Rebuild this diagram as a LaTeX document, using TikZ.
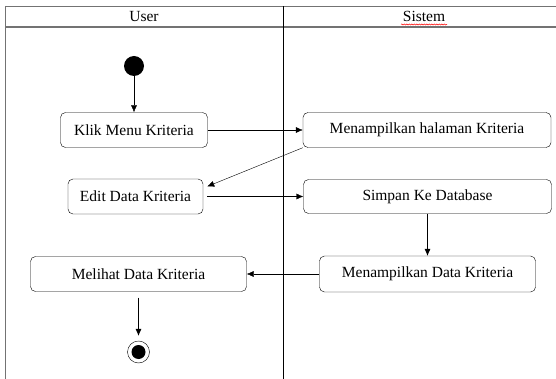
\documentclass[tikz,border=0pt]{standalone}
\usepackage{fontspec}
\setmainfont{Liberation Serif}
\usepackage{tikz}
\usetikzlibrary{arrows.meta,decorations.pathmorphing}

\begin{document}
\begin{tikzpicture}[
    x=1pt, y=-1pt,
    lane line/.style={line width=1.3pt, color=black!55},
    lane divider/.style={line width=0.9pt, color=black},
    activity/.style={draw, thin, rounded corners=5pt, inner sep=0pt,
    minimum height=35pt, font=\fontsize{15.5}{18}\selectfont},
    flow/.style={thin, -{Latex[length=7pt,width=6pt]}},
    every node/.style={color=black}
    ]
\useasboundingbox (0,0) rectangle (556,379);

% swimlanes
\draw[lane line] (5.5,6.5) -- (556,6.5);
\draw[lane line] (5.5,27) -- (556,27);
\draw[lane line] (5.5,6) -- (5.5,379);
\draw[lane divider] (283,6.5) -- (283,379);

\node[font=\fontsize{15.5}{18}\selectfont] (user) at (144,16.5) {User};
\node[font=\fontsize{15.5}{18}\selectfont] (sistem) at (424,16.5) {Sistem};
\draw[red, line width=0.5pt, decorate,
    decoration={snake, amplitude=0.6pt, segment length=2.5pt}]
    (401,24.5) -- (447,24.5);

% start and end
\node[circle, fill=black, minimum size=20pt, inner sep=0pt] (start) at (134,66) {};
\node[circle, draw, thin, minimum size=22pt, inner sep=0pt] (stop) at (138.5,352) {};
\node[circle, fill=black, minimum size=14pt, inner sep=0pt] (stopdot) at (138.5,352) {};

% activities
\node[activity, minimum width=147pt] (klik) at (134,130) {Klik Menu Kriteria};
\node[activity, minimum width=135pt] (edit) at (135.5,196.5) {Edit Data Kriteria};
\node[activity, minimum width=216pt] (lihat) at (138.5,274) {Melihat Data Kriteria};

\node[activity, minimum width=248pt] (mhal) at (427,130) {Menampilkan halaman Kriteria};
\node[activity, minimum width=248pt, minimum height=34pt] (simpan) at (427.5,196.5) {Simpan Ke Database};
\node[activity, minimum width=216pt, minimum height=36pt] (mdata) at (427.5,274) {Menampilkan Data Kriteria};

% flows
\draw[flow] (start) -- (klik);
\draw[flow] (klik) -- (mhal);
\draw[flow] (mhal.south west) -- ([xshift=4pt,yshift=10pt]edit.east);
\draw[flow, shorten <=4pt] (edit) -- (simpan);
\draw[flow] (simpan) -- (mdata);
\draw[flow] (mdata) -- (lihat);
\draw[flow, shorten <=6pt, shorten >=5pt] (lihat) -- (stop);

\end{tikzpicture}
\end{document}
